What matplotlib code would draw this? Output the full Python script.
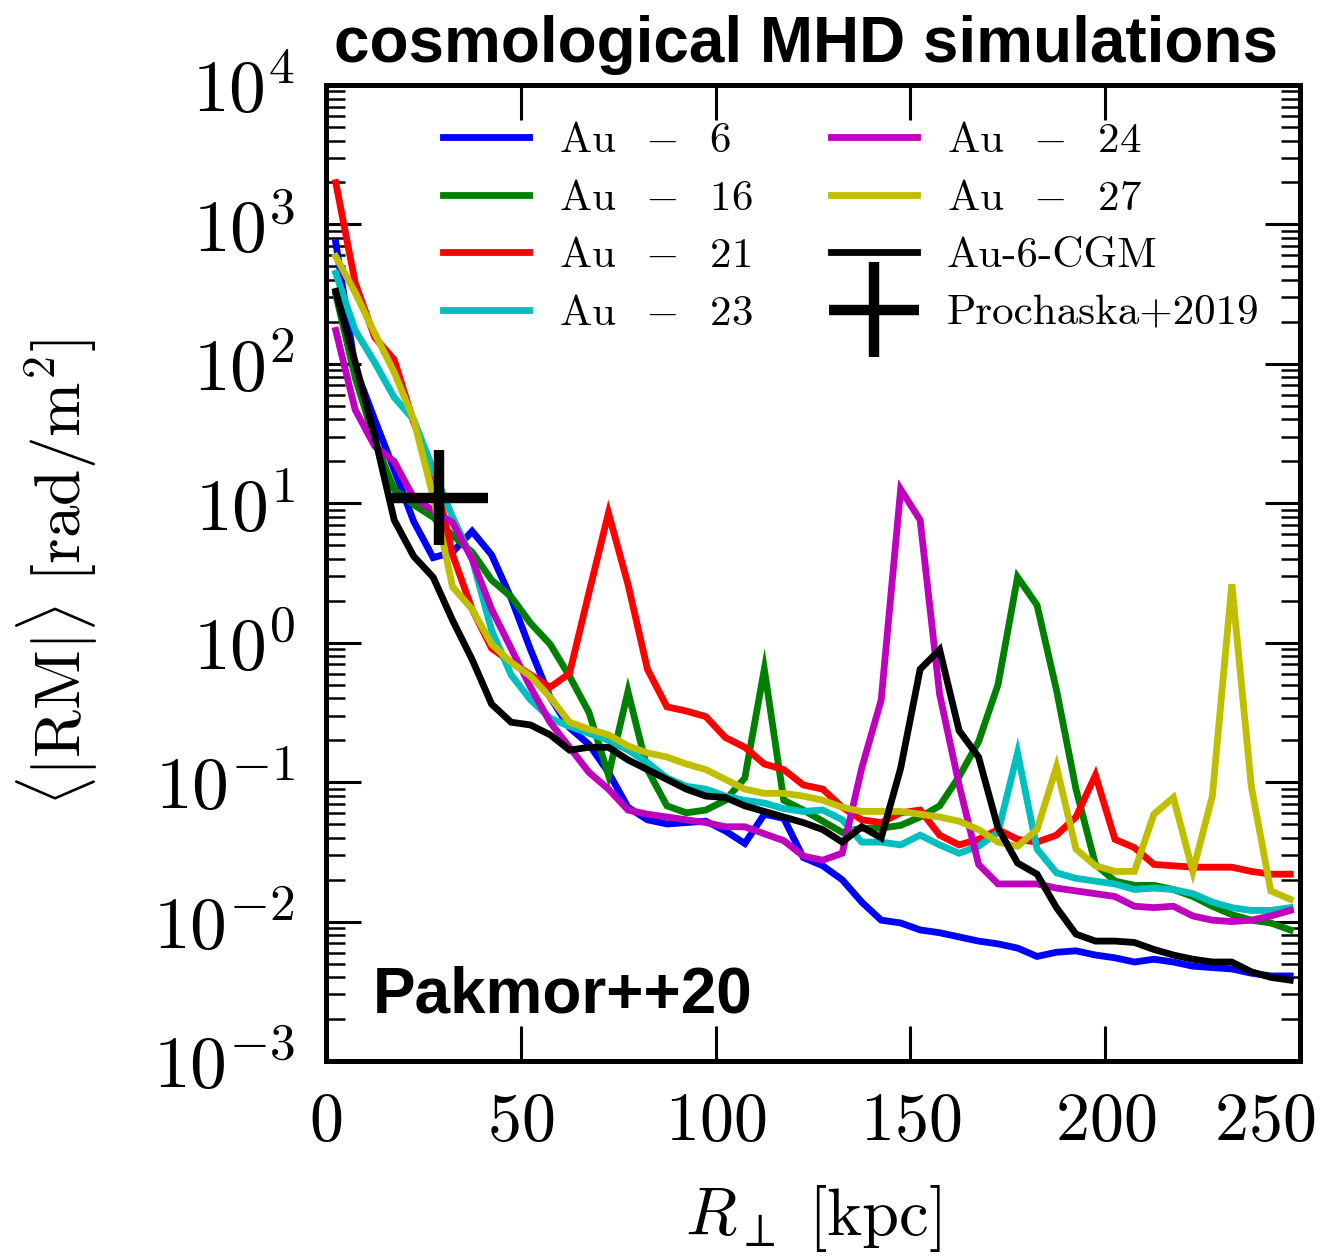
import numpy as np
import matplotlib
matplotlib.use('Agg')
import matplotlib.pyplot as plt
import matplotlib.transforms as mtransforms
from matplotlib.ticker import LogLocator, FuncFormatter, NullFormatter
from matplotlib.legend_handler import HandlerErrorbar
from matplotlib.container import ErrorbarContainer

plt.rcParams['mathtext.fontset'] = 'cm'
plt.rcParams['font.family'] = 'cmr10'
plt.rcParams['axes.formatter.use_mathtext'] = True
plt.rcParams['axes.unicode_minus'] = False

# ---- data (radius bin centres in kpc; <|RM|> given as log10 values) ----
R_kpc = [2.5, 7.5, 12.5, 17.5, 22.5, 27.5, 32.5, 37.5, 42.5, 47.5,
         52.5, 57.5, 62.5, 67.5, 72.5, 77.5, 82.5, 87.5, 92.5, 97.5,
         102.5, 107.5, 112.5, 117.5, 122.5, 127.5, 132.5, 137.5, 142.5, 147.5,
         152.5, 157.5, 162.5, 167.5, 172.5, 177.5, 182.5, 187.5, 192.5, 197.5,
         202.5, 207.5, 212.5, 217.5, 222.5, 227.5, 232.5, 237.5, 242.5, 247.5]

au6_log = [2.87, 1.97, 1.60, 1.24, 0.87, 0.61, 0.65, 0.80, 0.63, 0.32,
           -0.05, -0.39, -0.61, -0.73, -0.93, -1.18, -1.27, -1.30, -1.29, -1.28,
           -1.35, -1.44, -1.23, -1.26, -1.54, -1.60, -1.70, -1.86, -1.99, -2.01,
           -2.06, -2.08, -2.11, -2.14, -2.16, -2.19, -2.25, -2.22, -2.21, -2.24,
           -2.26, -2.29, -2.27, -2.29, -2.32, -2.33, -2.34, -2.37, -2.39, -2.39]

au16_log = [2.50, 1.90, 1.45, 1.10, 0.99, 0.90, 0.77, 0.65, 0.45, 0.33,
            0.14, -0.01, -0.24, -0.50, -0.95, -0.35, -0.91, -1.17, -1.22, -1.20,
            -1.13, -0.97, -0.19, -1.13, -1.20, -1.28, -1.36, -1.33, -1.33, -1.31,
            -1.25, -1.17, -0.96, -0.71, -0.30, 0.47, 0.27, -0.34, -1.05, -1.59,
            -1.71, -1.74, -1.74, -1.77, -1.82, -1.89, -1.95, -1.99, -2.01, -2.06]

au21_log = [3.30, 2.58, 2.19, 2.03, 1.58, 1.24, 0.63, 0.24, -0.04, -0.14,
            -0.23, -0.32, -0.22, 0.36, 0.93, 0.42, -0.19, -0.46, -0.49, -0.53,
            -0.68, -0.75, -0.87, -0.91, -1.02, -1.05, -1.18, -1.27, -1.29, -1.22,
            -1.20, -1.38, -1.45, -1.41, -1.34, -1.41, -1.43, -1.38, -1.25, -0.95,
            -1.41, -1.47, -1.59, -1.60, -1.61, -1.61, -1.61, -1.64, -1.66, -1.66]

au23_log = [2.65, 2.24, 2.01, 1.76, 1.60, 1.24, 0.90, 0.60, 0.09, -0.23,
            -0.41, -0.54, -0.60, -0.65, -0.70, -0.77, -0.86, -0.97, -1.03, -1.05,
            -1.10, -1.13, -1.15, -1.19, -1.21, -1.20, -1.27, -1.43, -1.43, -1.45,
            -1.38, -1.45, -1.51, -1.46, -1.36, -0.79, -1.48, -1.65, -1.69, -1.71,
            -1.73, -1.77, -1.76, -1.77, -1.80, -1.86, -1.90, -1.92, -1.92, -1.90]

au24_log = [2.24, 1.67, 1.41, 1.30, 1.04, 0.95, 0.86, 0.60, 0.24, -0.04,
            -0.32, -0.57, -0.75, -0.93, -1.05, -1.20, -1.23, -1.25, -1.27, -1.29,
            -1.32, -1.32, -1.37, -1.42, -1.53, -1.56, -1.51, -0.90, -0.41, 1.10,
            0.88, -0.37, -1.02, -1.59, -1.73, -1.73, -1.73, -1.76, -1.78, -1.80,
            -1.82, -1.89, -1.90, -1.89, -1.96, -1.99, -2.00, -1.99, -1.96, -1.92]

au27_log = [2.77, 2.51, 2.22, 1.94, 1.60, 1.05, 0.40, 0.24, -0.01, -0.14,
            -0.24, -0.39, -0.57, -0.62, -0.66, -0.74, -0.79, -0.82, -0.87, -0.91,
            -0.98, -1.05, -1.08, -1.08, -1.10, -1.13, -1.18, -1.21, -1.21, -1.21,
            -1.23, -1.25, -1.28, -1.34, -1.43, -1.46, -1.34, -0.89, -1.48, -1.60,
            -1.64, -1.64, -1.23, -1.11, -1.64, -1.10, 0.42, -1.03, -1.78, -1.84]

au6cgm_log = [2.52, 2.01, 1.48, 0.88, 0.62, 0.47, 0.16, -0.12, -0.44, -0.57,
              -0.59, -0.66, -0.77, -0.75, -0.75, -0.84, -0.91, -0.98, -1.05, -1.10,
              -1.11, -1.17, -1.21, -1.25, -1.29, -1.34, -1.43, -1.32, -1.40, -0.90,
              -0.19, -0.05, -0.63, -0.82, -1.33, -1.58, -1.66, -1.90, -2.09, -2.14,
              -2.14, -2.15, -2.20, -2.24, -2.27, -2.29, -2.29, -2.36, -2.40, -2.42]

series_labels = [r'$\mathrm{Au}\ \;-\;\ 6$', r'$\mathrm{Au}\ \;-\;\ 16$', r'$\mathrm{Au}\ \;-\;\ 21$',
                 r'$\mathrm{Au}\ \;-\;\ 23$', r'$\mathrm{Au}\ \;-\;\ 24$', r'$\mathrm{Au}\ \;-\;\ 27$',
                 'Au-6-CGM']
series_colors = ['b', 'g', 'r', 'c', 'm', 'y', 'k']
series_logs = [au6_log, au16_log, au21_log, au23_log, au24_log, au27_log, au6cgm_log]

# Prochaska+2019 point
pro_x = [29.0]
pro_y = [11.0]
pro_xerr = [12.5]
pro_yerr_lo = [6.0]
pro_yerr_hi = [13.0]

# ---- figure ----
fig = plt.figure(figsize=(13.21, 12.58), dpi=100)
ax = fig.add_axes([0.2468, 0.1566, 0.7373, 0.7758])

handles = []
R = np.array(R_kpc)
for lab, col, lg in zip(series_labels, series_colors, series_logs):
    h, = ax.plot(R, 10.0 ** np.array(lg), color=col, lw=4.9, label=lab,
                 solid_joinstyle='miter')
    handles.append(h)

eb = ax.errorbar(pro_x, pro_y, xerr=pro_xerr, yerr=[pro_yerr_lo, pro_yerr_hi],
                 fmt='none', ecolor='k', elinewidth=7.5, capsize=0,
                 label='Prochaska+2019', zorder=10)
handles.append(eb)

ax.set_yscale('log')
ax.set_xlim(0, 250)
ax.set_ylim(1e-3, 1e4)
ax.set_xticks([0, 50, 100, 150, 200, 250])
ax.yaxis.set_major_locator(LogLocator(base=10, numticks=20))
ax.yaxis.set_minor_locator(LogLocator(base=10, subs=np.arange(2, 10), numticks=200))
ax.yaxis.set_minor_formatter(NullFormatter())
ax.yaxis.set_major_formatter(FuncFormatter(lambda v, p: r'$10^{%d}$' % int(round(np.log10(v)))))
ax.xaxis.set_major_formatter(FuncFormatter(lambda v, p: r'$%d$' % int(round(v))))

ax.tick_params(which='both', direction='in', top=True, right=True)
ax.tick_params(which='major', length=25, width=2.2)
ax.tick_params(which='minor', length=14, width=1.8)
ax.tick_params(axis='x', which='major', pad=22, labelsize=49)
ax.tick_params(axis='y', which='major', pad=22, labelsize=53)
for s in ax.spines.values():
    s.set_linewidth(3.6)

# keep the last x tick label inside the figure
last_lab = ax.xaxis.get_major_ticks()[-1].label1
last_lab.set_horizontalalignment('right')
last_lab.set_transform(last_lab.get_transform() +
                       mtransforms.ScaledTranslation(0.15, 0, fig.dpi_scale_trans))

ax.set_xlabel(r'$R_\perp\ [\mathrm{kpc}]$', fontsize=48)
ax.set_ylabel(r'$\langle|\mathrm{RM}|\rangle\ [\mathrm{rad/m^2}]$', fontsize=47)
ax.xaxis.set_label_coords(0.5, -0.125)
ax.yaxis.set_label_coords(-0.232, 0.5)

leg = ax.legend(handles=handles, ncol=2, loc='upper left', bbox_to_anchor=(0.12, 0.962),
                frameon=False, fontsize=31, handlelength=2.0, handletextpad=0.7,
                columnspacing=1.8, labelspacing=0.45, borderpad=0, borderaxespad=0,
                handler_map={ErrorbarContainer: HandlerErrorbar(xerr_size=1.05, yerr_size=1.1)})

ax.text(0.048, 0.05, 'Pakmor++20', transform=ax.transAxes, fontsize=46,
        fontweight='bold', family='Liberation Sans', va='baseline', ha='left')
fig.text(0.61, 0.951, 'cosmological MHD simulations', ha='center', va='baseline',
         fontsize=46, fontweight='bold', family='Liberation Sans')

fig.savefig('out.png', dpi=100)
